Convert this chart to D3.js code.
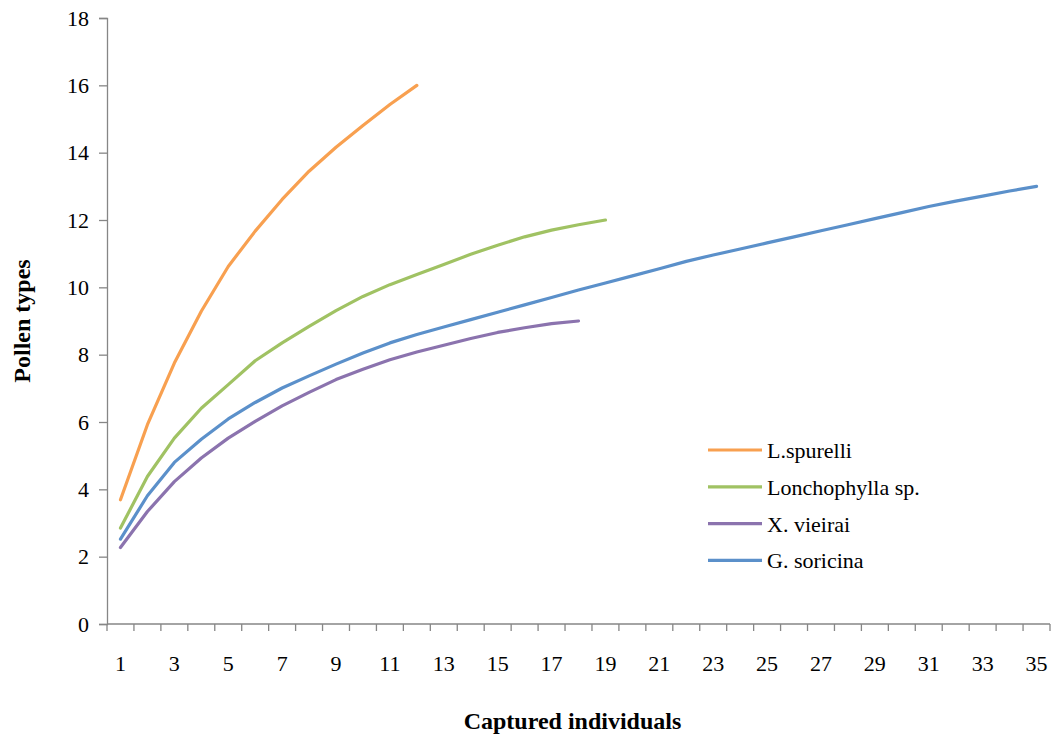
<!DOCTYPE html>
<html>
<head>
<meta charset="utf-8">
<script src="https://cdn.jsdelivr.net/npm/d3@7"></script>
<style>
  body { margin: 0; background: #fff; }
  svg text { font-family: "Liberation Serif", Tinos, "Times New Roman", Times, "DejaVu Serif", serif !important; }
</style>
</head>
<body>
<div class="chart"></div>
<script>
// categories on the x axis (captured individuals)
const categories = d3.range(1, 36);
const xTickLabels = categories.filter(d => d % 2 === 1);
const yTicks = [0, 2, 4, 6, 8, 10, 12, 14, 16, 18];

// rarefaction curves
const spurelli = [3.69, 5.92, 7.75, 9.29, 10.62, 11.67, 12.61, 13.45, 14.16, 14.81, 15.43, 16.0];
const lonchophylla = [2.85, 4.38, 5.52, 6.41, 7.11, 7.82, 8.35, 8.84, 9.31, 9.73, 10.08, 10.38,
  10.68, 10.98, 11.25, 11.5, 11.7, 11.86, 12.0];
const vieirai = [2.27, 3.34, 4.23, 4.93, 5.52, 6.02, 6.48, 6.88, 7.26, 7.57, 7.85, 8.08,
  8.28, 8.48, 8.66, 8.8, 8.92, 9.0];
const soricina = [2.52, 3.81, 4.8, 5.49, 6.09, 6.58, 7.01, 7.37, 7.72, 8.05, 8.35, 8.6,
  8.82, 9.04, 9.26, 9.48, 9.7, 9.92, 10.13, 10.34, 10.55, 10.77, 10.96, 11.14, 11.32,
  11.5, 11.68, 11.86, 12.04, 12.22, 12.4, 12.56, 12.71, 12.86, 13.0];

const seriesNames = ["L.spurelli", "Lonchophylla sp.", "X. vieirai", "G. soricina"];
const seriesValues = [spurelli, lonchophylla, vieirai, soricina];
const seriesColors = ["#F8A050", "#A0C263", "#8B73AE", "#5B90CA"];

const outWidth = 1052, outHeight = 740;
const margin = {top: 18, right: 2, bottom: 116, left: 107};
const width = outWidth - margin.left - margin.right,
      height = outHeight - margin.top - margin.bottom;
const serif = "'Liberation Serif', Tinos, 'Times New Roman', Times, 'DejaVu Serif', serif";

const svg = d3.select(".chart").append("svg")
  .attr("width", outWidth)
  .attr("height", outHeight)
  .attr("font-family", serif);

const g = svg.append("g")
  .attr("transform", `translate(${margin.left}, ${margin.top})`);

const xScale = d3.scaleBand()
  .domain(categories)
  .range([0, width]);
const yScale = d3.scaleLinear()
  .domain([0, 18])
  .range([height, 0]);

const axisColor = "#868686";

// y axis
const yAxis = d3.axisLeft(yScale).tickValues(yTicks).tickSize(8).tickPadding(10);
const yg = g.append("g").attr("class", "axis y-axis").call(yAxis)
  .attr("font-family", serif);
yg.select(".domain").attr("stroke", axisColor).attr("stroke-width", 1.3);
yg.selectAll(".tick line").attr("stroke", axisColor).attr("stroke-width", 1.3);
yg.selectAll(".tick text")
  .attr("font-size", 22)
  .attr("fill", "#000");

// x axis: ticks sit between categories, labels on every other one
const xg = g.append("g")
  .attr("class", "axis x-axis")
  .attr("transform", `translate(0, ${height})`);
xg.append("line")
  .attr("x1", 0).attr("x2", width)
  .attr("stroke", axisColor).attr("stroke-width", 1.3);
xg.selectAll("line.tk")
  .data(categories.concat([null]))
  .enter().append("line")
  .attr("class", "tk")
  .attr("x1", (d, i) => i * xScale.step())
  .attr("x2", (d, i) => i * xScale.step())
  .attr("y1", 0).attr("y2", 7)
  .attr("stroke", axisColor).attr("stroke-width", 1.3);
xg.selectAll("text")
  .data(xTickLabels)
  .enter().append("text")
  .attr("x", d => xScale(d) + xScale.bandwidth() / 2)
  .attr("y", 47)
  .attr("text-anchor", "middle")
  .attr("font-size", 22)
  .text(d => d);

// lines
const line = d3.line()
  .x((d, i) => xScale(categories[i]) + xScale.bandwidth() / 2)
  .y(d => yScale(d));

g.selectAll("path.series")
  .data(seriesValues)
  .enter().append("path")
  .attr("class", "series")
  .attr("d", line)
  .attr("fill", "none")
  .attr("stroke", (d, i) => seriesColors[i])
  .attr("stroke-width", 3.2)
  .attr("stroke-linejoin", "round")
  .attr("stroke-linecap", "round");

// axis titles
svg.append("text")
  .attr("x", margin.left + width / 2 - 6)
  .attr("y", 729)
  .attr("text-anchor", "middle")
  .attr("font-size", 24)
  .attr("font-weight", "bold")
  .text("Captured individuals");

svg.append("text")
  .attr("transform", `translate(30, ${margin.top + height / 2}) rotate(-90)`)
  .attr("text-anchor", "middle")
  .attr("font-size", 24)
  .attr("font-weight", "bold")
  .text("Pollen types");

// legend
const legend = svg.append("g").attr("transform", "translate(708, 450)");
const items = legend.selectAll("g")
  .data(seriesNames)
  .enter().append("g")
  .attr("transform", (d, i) => `translate(0, ${i * 36.8})`);
items.append("line")
  .attr("x1", 0).attr("x2", 54)
  .attr("stroke", (d, i) => seriesColors[i])
  .attr("stroke-width", 3.2);
items.append("text")
  .attr("x", 59)
  .attr("y", 8)
  .attr("font-size", 22)
  .text(d => d);
</script>
</body>
</html>
